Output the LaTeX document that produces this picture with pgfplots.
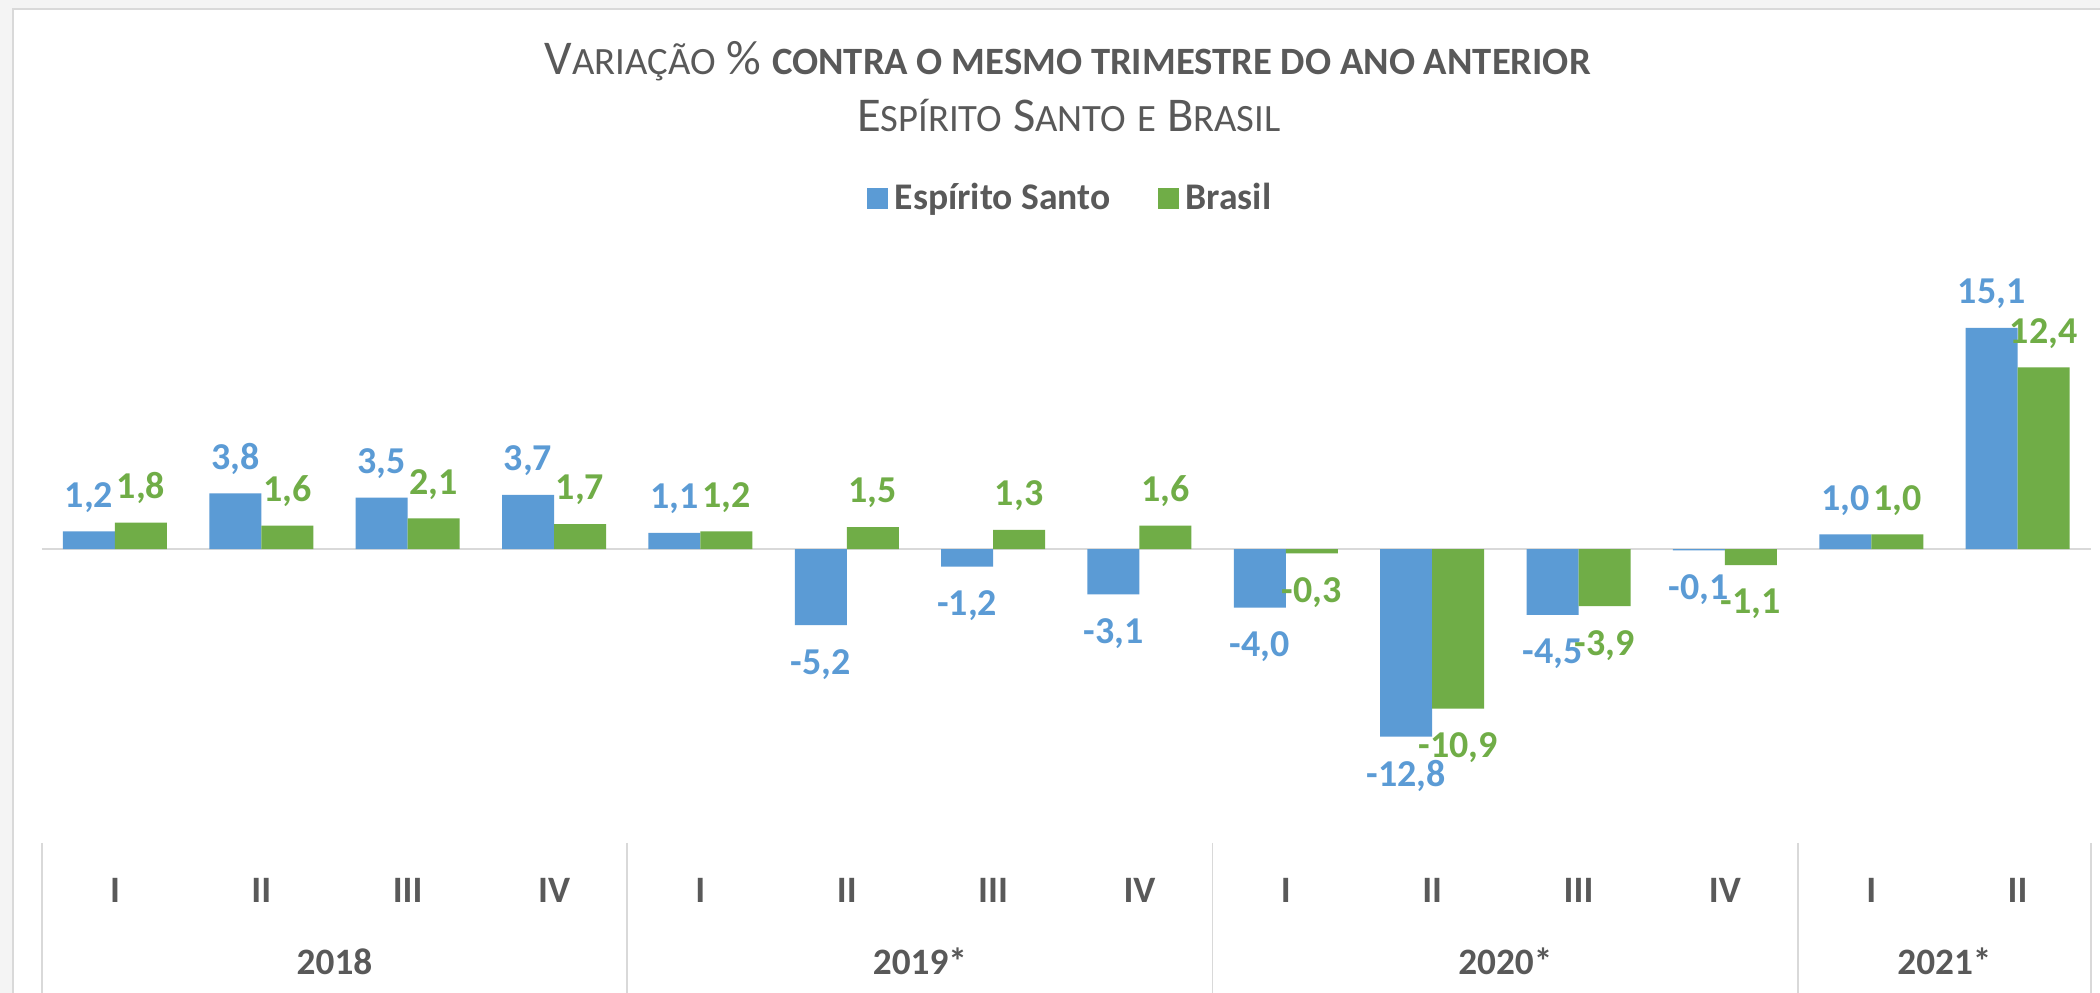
\documentclass[border=0pt]{standalone}
\usepackage{pgfplots}
\pgfplotsset{compat=1.18}
\usepackage{fontspec}
\setmainfont{Carlito}
\definecolor{esblue}{HTML}{5B9BD5}
\definecolor{brgreen}{HTML}{70AD47}
\definecolor{txt}{HTML}{595959}
\definecolor{rulegray}{HTML}{D9D9D9}
\definecolor{outergray}{HTML}{F4F4F4}
\newcommand\smc[1]{{\fontsize{11.0}{13}\selectfont #1}}
\newcommand\lblfont{\fontsize{10.6}{12}\selectfont\bfseries}

\begin{document}
\begin{tikzpicture}
\useasboundingbox (-0.418,-1.52) rectangle (20.582,8.41);
\fill[outergray] (-0.418,-1.52) rectangle (20.582,8.41);
\fill[white] (-0.288,-1.52) rectangle (20.582,8.32);
\draw[rulegray, line width=0.02cm] (-0.288,-1.52) -- (-0.288,8.32) -- (20.582,8.32);

\begin{axis}[
  at={(0,0)}, anchor=south west,
  scale only axis,
  width=20.49cm, height=5.91cm,
  xmin=-0.5, xmax=13.5, ymin=-19.93, ymax=20.41,
  clip=false,
  axis line style={draw=none},
  ybar, bar width=0.52cm,
  ytick=\empty,
  xtick=data,
  major tick length=0pt,
  xticklabels={I,II,III,IV,I,II,III,IV,I,II,III,IV,I,II},
  xticklabel style={font=\lblfont, text=txt, anchor=base, yshift=-0.61cm},
  nodes near coords,
  every node near coord/.append style={font=\fontsize{10.8}{13}\selectfont\bfseries,
    inner xsep=0pt, inner ysep=0.235cm, text depth=0pt},
  /pgf/number format/fixed,
  /pgf/number format/fixed zerofill,
  /pgf/number format/precision=1,
  /pgf/number format/use comma,
  /pgf/number format/assume math mode=true,
  legend style={at={(0.503,1.087)}, anchor=center, draw=none, fill=none,
    legend columns=2, font=\fontsize{10.7}{12}\selectfont\bfseries, text=txt,
    /tikz/every even column/.append style={column sep=0.40cm}},
  legend image code/.code={\draw[#1, draw=none] (0cm,-0.105cm) rectangle (0.21cm,0.105cm);},
]
  \draw[rulegray, line width=0.02cm] (axis cs:-0.5,0) -- (axis cs:13.5,0);

  % Espirito Santo
  \addplot[fill=esblue, draw=none, bar shift=-0.26cm,
    every node near coord/.append style={text=esblue}] coordinates {
    (0,1.2) (1,3.8) (2,3.5) (3,3.7) (4,1.1) (5,-5.2) (6,-1.2)
    (7,-3.1) (8,-4.0) (9,-12.8) (10,-4.5) (11,-0.1) (12,1.0) (13,15.1)
  };
  % Brasil
  \addplot[fill=brgreen, draw=none, bar shift=0.26cm,
    every node near coord/.append style={text=brgreen}] coordinates {
    (0,1.8) (1,1.6) (2,2.1) (3,1.7) (4,1.2) (5,1.5) (6,1.3)
    (7,1.6) (8,-0.3) (9,-10.9) (10,-3.9) (11,-1.1) (12,1.0) (13,12.4)
  };
  \legend{Espírito Santo, Brasil}

  \pgfplotsinvokeforeach{-0.5,3.5,7.5,11.5,13.5}{
    \draw[rulegray, line width=0.015cm] ([yshift=-0.02cm]axis cs:#1,-19.93) -- ([yshift=-1.6cm]axis cs:#1,-19.93);
  }
  \node[anchor=base, font=\lblfont, text=txt, yshift=-1.34cm] at (axis cs:1.5,-19.93) {2018};
  \node[anchor=base, font=\lblfont, text=txt, yshift=-1.34cm] at (axis cs:5.5,-19.93) {2019*};
  \node[anchor=base, font=\lblfont, text=txt, yshift=-1.34cm] at (axis cs:9.5,-19.93) {2020*};
  \node[anchor=base, font=\lblfont, text=txt, yshift=-1.34cm] at (axis cs:12.5,-19.93) {2021*};
\end{axis}

\node[anchor=base, text=txt, inner sep=0pt] at (10.26,7.66)
  {\fontsize{13.8}{16}\selectfont V\smc{ARIAÇÃO} \% \textbf{\smc{CONTRA O MESMO TRIMESTRE DO ANO ANTERIOR}}};
\node[anchor=base, text=txt, inner sep=0pt] at (10.27,7.09)
  {\fontsize{13.8}{16}\selectfont E\smc{SPÍRITO} S\smc{ANTO} \smc{E} B\smc{RASIL}};
\end{tikzpicture}
\end{document}
